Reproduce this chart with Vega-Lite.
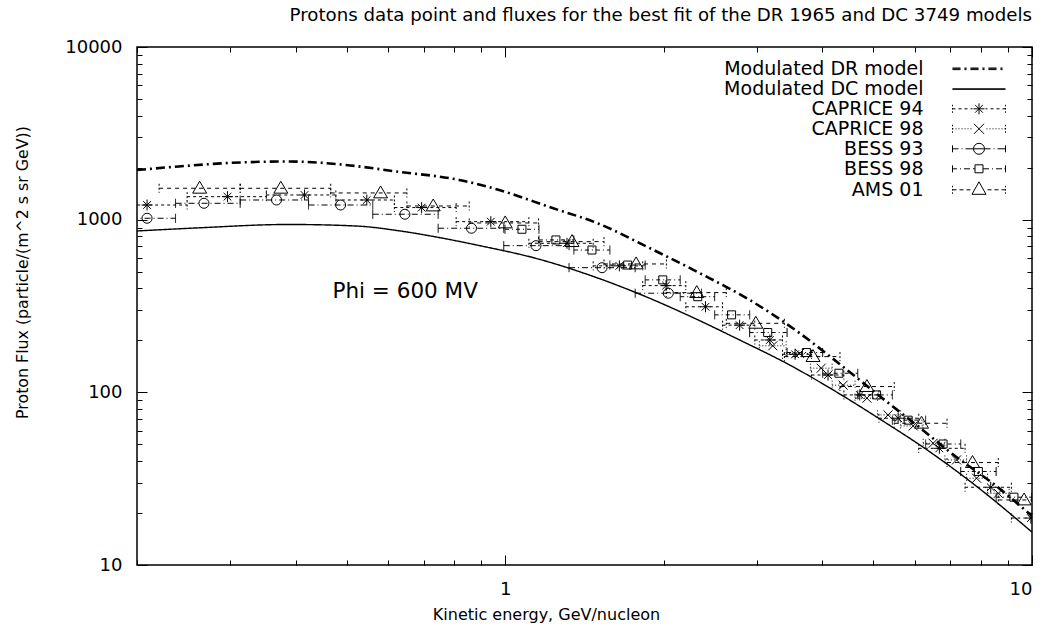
{
  "$schema": "https://vega.github.io/schema/vega-lite/v6.json",
  "width": 895,
  "height": 518,
  "autosize": {"type": "none"},
  "padding": {"left": 137, "top": 47, "right": 16, "bottom": 62},
  "background": "white",
  "title": {"text": "Protons data point and fluxes for the best fit of the DR 1965 and DC 3749 models", "anchor": "end", "frame": "group", "font": "DejaVu Sans", "fontSize": 18.2, "fontWeight": "normal", "color": "black", "offset": 13},
  "config": {
    "view": {"stroke": "black", "strokeWidth": 1.5},
    "font": "DejaVu Sans",
    "axis": {"domain": false, "grid": false, "tickColor": "black", "tickWidth": 1, "labelColor": "black", "titleColor": "black", "labelFont": "DejaVu Sans", "titleFont": "DejaVu Sans", "titleFontWeight": "normal", "labelFontSize": 18}
  },
  "datasets": {
    "models": [
      {"series": "Modulated DR model", "x": 0.2, "y": 1940},
      {"series": "Modulated DR model", "x": 0.24, "y": 2033},
      {"series": "Modulated DR model", "x": 0.2987, "y": 2130},
      {"series": "Modulated DR model", "x": 0.3885, "y": 2173},
      {"series": "Modulated DR model", "x": 0.4985, "y": 2074},
      {"series": "Modulated DR model", "x": 0.6205, "y": 1902},
      {"series": "Modulated DR model", "x": 0.8176, "y": 1698},
      {"series": "Modulated DR model", "x": 0.974, "y": 1486},
      {"series": "Modulated DR model", "x": 1.212, "y": 1185},
      {"series": "Modulated DR model", "x": 1.509, "y": 944},
      {"series": "Modulated DR model", "x": 1.878, "y": 686},
      {"series": "Modulated DR model", "x": 2.338, "y": 491},
      {"series": "Modulated DR model", "x": 2.91, "y": 343},
      {"series": "Modulated DR model", "x": 3.623, "y": 220},
      {"series": "Modulated DR model", "x": 4.13, "y": 162},
      {"series": "Modulated DR model", "x": 5.14, "y": 95},
      {"series": "Modulated DR model", "x": 6.4, "y": 56},
      {"series": "Modulated DR model", "x": 6.98, "y": 45.2},
      {"series": "Modulated DR model", "x": 8.69, "y": 27.6},
      {"series": "Modulated DR model", "x": 10, "y": 19.2},
      {"series": "Modulated DC model", "x": 0.2, "y": 860},
      {"series": "Modulated DC model", "x": 0.2585, "y": 895},
      {"series": "Modulated DC model", "x": 0.3885, "y": 938},
      {"series": "Modulated DC model", "x": 0.521, "y": 919},
      {"series": "Modulated DC model", "x": 0.629, "y": 862},
      {"series": "Modulated DC model", "x": 0.749, "y": 788},
      {"series": "Modulated DC model", "x": 0.893, "y": 708},
      {"series": "Modulated DC model", "x": 1.16, "y": 590},
      {"series": "Modulated DC model", "x": 1.444, "y": 478},
      {"series": "Modulated DC model", "x": 1.798, "y": 371},
      {"series": "Modulated DC model", "x": 2.238, "y": 277},
      {"series": "Modulated DC model", "x": 2.786, "y": 201},
      {"series": "Modulated DC model", "x": 3.467, "y": 144},
      {"series": "Modulated DC model", "x": 4.315, "y": 97.9},
      {"series": "Modulated DC model", "x": 5.14, "y": 70.1},
      {"series": "Modulated DC model", "x": 6.4, "y": 45.2},
      {"series": "Modulated DC model", "x": 7.96, "y": 27.6},
      {"series": "Modulated DC model", "x": 10, "y": 15.5}
    ],
    "pts": [
      {"series": "CAPRICE 94", "x": 0.209, "y": 1216, "xlo": 0.185, "xhi": 0.249},
      {"series": "CAPRICE 94", "x": 0.297, "y": 1359, "xlo": 0.249, "xhi": 0.352},
      {"series": "CAPRICE 94", "x": 0.416, "y": 1390, "xlo": 0.352, "xhi": 0.477},
      {"series": "CAPRICE 94", "x": 0.546, "y": 1300, "xlo": 0.477, "xhi": 0.616},
      {"series": "CAPRICE 94", "x": 0.694, "y": 1175, "xlo": 0.616, "xhi": 0.807},
      {"series": "CAPRICE 94", "x": 0.939, "y": 974, "xlo": 0.807, "xhi": 1.109},
      {"series": "CAPRICE 94", "x": 1.31, "y": 730, "xlo": 1.109, "xhi": 1.469},
      {"series": "CAPRICE 94", "x": 1.647, "y": 540, "xlo": 1.469, "xhi": 1.824},
      {"series": "CAPRICE 94", "x": 2.02, "y": 415, "xlo": 1.824, "xhi": 2.202},
      {"series": "CAPRICE 94", "x": 2.4, "y": 313, "xlo": 2.202, "xhi": 2.586},
      {"series": "CAPRICE 94", "x": 2.786, "y": 245, "xlo": 2.586, "xhi": 2.977},
      {"series": "CAPRICE 94", "x": 3.18, "y": 201, "xlo": 2.977, "xhi": 3.36},
      {"series": "CAPRICE 94", "x": 3.55, "y": 166, "xlo": 3.36, "xhi": 3.815},
      {"series": "CAPRICE 94", "x": 4.1, "y": 126, "xlo": 3.815, "xhi": 4.394},
      {"series": "CAPRICE 94", "x": 4.71, "y": 96.6, "xlo": 4.394, "xhi": 5.122},
      {"series": "CAPRICE 94", "x": 5.57, "y": 70.8, "xlo": 5.122, "xhi": 6.095},
      {"series": "CAPRICE 94", "x": 6.67, "y": 47.4, "xlo": 6.095, "xhi": 7.463},
      {"series": "CAPRICE 94", "x": 8.35, "y": 28.2, "xlo": 7.463, "xhi": 9.138},
      {"series": "CAPRICE 94", "x": 9.95, "y": 18.7, "xlo": 9.138, "xhi": 10.9},
      {"series": "CAPRICE 98", "x": 3.22, "y": 186, "xlo": 3.037, "xhi": 3.414},
      {"series": "CAPRICE 98", "x": 3.62, "y": 168, "xlo": 3.414, "xhi": 3.796},
      {"series": "CAPRICE 98", "x": 3.98, "y": 138, "xlo": 3.796, "xhi": 4.175},
      {"series": "CAPRICE 98", "x": 4.38, "y": 110, "xlo": 4.175, "xhi": 4.614},
      {"series": "CAPRICE 98", "x": 4.86, "y": 92.5, "xlo": 4.614, "xhi": 5.09},
      {"series": "CAPRICE 98", "x": 5.33, "y": 74, "xlo": 5.09, "xhi": 5.631},
      {"series": "CAPRICE 98", "x": 5.95, "y": 63.9, "xlo": 5.631, "xhi": 6.214},
      {"series": "CAPRICE 98", "x": 6.49, "y": 50.7, "xlo": 6.214, "xhi": 6.831},
      {"series": "CAPRICE 98", "x": 7.19, "y": 40.6, "xlo": 6.831, "xhi": 7.513},
      {"series": "CAPRICE 98", "x": 7.85, "y": 31.8, "xlo": 7.513, "xhi": 8.231},
      {"series": "CAPRICE 98", "x": 8.63, "y": 26.0, "xlo": 8.231, "xhi": 9.05},
      {"series": "BESS 93", "x": 0.209, "y": 1019, "xlo": 0.1845, "xhi": 0.2367},
      {"series": "BESS 93", "x": 0.268, "y": 1244, "xlo": 0.2367, "xhi": 0.314},
      {"series": "BESS 93", "x": 0.368, "y": 1300, "xlo": 0.314, "xhi": 0.4233},
      {"series": "BESS 93", "x": 0.487, "y": 1216, "xlo": 0.4233, "xhi": 0.5605},
      {"series": "BESS 93", "x": 0.645, "y": 1075, "xlo": 0.5605, "xhi": 0.746},
      {"series": "BESS 93", "x": 0.863, "y": 892, "xlo": 0.746, "xhi": 0.9936},
      {"series": "BESS 93", "x": 1.144, "y": 707, "xlo": 0.9936, "xhi": 1.3217},
      {"series": "BESS 93", "x": 1.527, "y": 527, "xlo": 1.3217, "xhi": 1.765},
      {"series": "BESS 93", "x": 2.04, "y": 375, "xlo": 1.765, "xhi": 2.358},
      {"series": "BESS 98", "x": 1.076, "y": 880, "xlo": 0.999, "xhi": 1.159},
      {"series": "BESS 98", "x": 1.248, "y": 763, "xlo": 1.159, "xhi": 1.35},
      {"series": "BESS 98", "x": 1.461, "y": 667, "xlo": 1.35, "xhi": 1.58},
      {"series": "BESS 98", "x": 1.708, "y": 546, "xlo": 1.58, "xhi": 1.844},
      {"series": "BESS 98", "x": 1.991, "y": 448, "xlo": 1.844, "xhi": 2.149},
      {"series": "BESS 98", "x": 2.32, "y": 358, "xlo": 2.149, "xhi": 2.498},
      {"series": "BESS 98", "x": 2.69, "y": 281, "xlo": 2.498, "xhi": 2.911},
      {"series": "BESS 98", "x": 3.15, "y": 222, "xlo": 2.911, "xhi": 3.428},
      {"series": "BESS 98", "x": 3.73, "y": 170, "xlo": 3.428, "xhi": 4.005},
      {"series": "BESS 98", "x": 4.3, "y": 129, "xlo": 4.005, "xhi": 4.669},
      {"series": "BESS 98", "x": 5.07, "y": 96.6, "xlo": 4.669, "xhi": 5.432},
      {"series": "BESS 98", "x": 5.82, "y": 69, "xlo": 5.432, "xhi": 6.282},
      {"series": "BESS 98", "x": 6.78, "y": 50.2, "xlo": 6.282, "xhi": 7.323},
      {"series": "BESS 98", "x": 7.91, "y": 34.8, "xlo": 7.323, "xhi": 8.549},
      {"series": "BESS 98", "x": 9.24, "y": 24.7, "xlo": 8.549, "xhi": 9.987},
      {"series": "AMS 01", "x": 0.263, "y": 1520, "xlo": 0.2203, "xhi": 0.314},
      {"series": "AMS 01", "x": 0.375, "y": 1520, "xlo": 0.314, "xhi": 0.4664},
      {"series": "AMS 01", "x": 0.58, "y": 1428, "xlo": 0.4664, "xhi": 0.6507},
      {"series": "AMS 01", "x": 0.73, "y": 1200, "xlo": 0.6507, "xhi": 0.8544},
      {"series": "AMS 01", "x": 1.0, "y": 957, "xlo": 0.8544, "xhi": 1.157},
      {"series": "AMS 01", "x": 1.339, "y": 746, "xlo": 1.157, "xhi": 1.54},
      {"series": "AMS 01", "x": 1.772, "y": 554, "xlo": 1.54, "xhi": 2.023},
      {"series": "AMS 01", "x": 2.31, "y": 378, "xlo": 2.023, "xhi": 2.628},
      {"series": "AMS 01", "x": 2.99, "y": 251, "xlo": 2.628, "xhi": 3.388},
      {"series": "AMS 01", "x": 3.84, "y": 161, "xlo": 3.388, "xhi": 4.32},
      {"series": "AMS 01", "x": 4.86, "y": 108, "xlo": 4.32, "xhi": 5.476},
      {"series": "AMS 01", "x": 6.17, "y": 66.2, "xlo": 5.476, "xhi": 6.897},
      {"series": "AMS 01", "x": 7.71, "y": 39.2, "xlo": 6.897, "xhi": 8.63},
      {"series": "AMS 01", "x": 9.66, "y": 23.8, "xlo": 8.63, "xhi": 10.81}
    ],
    "notes": [
      {"x": 0.47, "y": 380, "label": "Phi = 600 MV"}
    ]
  },
  "layer": [
    {
      "data": {"name": "models"},
      "mark": {"type": "line", "interpolate": "monotone", "color": "black", "clip": true},
      "encoding": {
        "x": {"field": "x", "type": "quantitative", "scale": {"type": "log", "domain": [0.2, 10], "nice": false},
          "axis": {"orient": "bottom", "values": [1, 10], "format": "d", "tickSize": -10, "labelPadding": 25, "title": "Kinetic energy, GeV/nucleon", "titleFontSize": 16, "titleX": 409, "titlePadding": 8}},
        "y": {"field": "y", "type": "quantitative", "scale": {"type": "log", "domain": [10, 10000], "nice": false},
          "axis": {"orient": "left", "values": [10, 100, 1000, 10000], "format": "d", "tickSize": -10, "labelPadding": 25, "title": "Proton Flux (particle/(m^2 s sr GeV))", "titleFontSize": 15.8, "titleX": -115, "titleY": 225, "titleAngle": -90, "titleAlign": "center", "titleBaseline": "middle"}},
        "detail": {"field": "series"},
        "strokeDash": {"condition": {"test": "datum.series === 'Modulated DR model'", "value": [9, 4, 2, 4]}, "value": [1, 0]},
        "strokeWidth": {"condition": {"test": "datum.series === 'Modulated DR model'", "value": 2.6}, "value": 1.4}
      }
    },
    {
      "data": {"name": "pts"},
      "mark": {"type": "rule", "color": "black", "strokeWidth": 1, "clip": true},
      "encoding": {
        "x": {"field": "xlo", "type": "quantitative", "scale": {"type": "log", "domain": [0.2, 10], "nice": false},
          "axis": {"orient": "bottom", "values": [0.2, 0.3, 0.4, 0.5, 0.6, 0.7, 0.8, 0.9, 2, 3, 4, 5, 6, 7, 8, 9], "tickSize": -5, "labels": false, "title": null}},
        "x2": {"field": "xhi"},
        "y": {"field": "y", "type": "quantitative", "scale": {"type": "log", "domain": [10, 10000], "nice": false},
          "axis": {"orient": "left", "values": [20, 30, 40, 50, 60, 70, 80, 90, 200, 300, 400, 500, 600, 700, 800, 900, 2000, 3000, 4000, 5000, 6000, 7000, 8000, 9000], "tickSize": -5, "labels": false, "title": null}},
        "strokeDash": {"condition": [
          {"test": "datum.series === 'CAPRICE 94'", "value": [3, 3]},
          {"test": "datum.series === 'CAPRICE 98'", "value": [1, 2]},
          {"test": "datum.series === 'BESS 93'", "value": [6, 3, 1, 3]},
          {"test": "datum.series === 'BESS 98'", "value": [4, 3, 1, 3]}
        ], "value": [4, 4]}
      }
    },
    {
      "data": {"name": "pts"},
      "transform": [{"fold": ["xlo", "xhi"], "as": ["end", "xe"]}],
      "mark": {"type": "point", "filled": false, "color": "black", "strokeWidth": 1, "size": 81, "shape": "M0,-1L0,1", "opacity": 1, "clip": true},
      "encoding": {
        "x": {"field": "xe", "type": "quantitative", "scale": {"type": "log", "domain": [0.2, 10], "nice": false},
          "axis": {"orient": "top", "values": [1, 10], "tickSize": -10, "labels": false, "title": null}},
        "y": {"field": "y", "type": "quantitative", "scale": {"type": "log", "domain": [10, 10000], "nice": false},
          "axis": {"orient": "right", "values": [10, 100, 1000, 10000], "tickSize": -10, "labels": false, "title": null}},
        "strokeDash": {"condition": [
          {"test": "datum.series === 'CAPRICE 94'", "value": [2, 2]},
          {"test": "datum.series === 'CAPRICE 98'", "value": [1, 2]},
          {"test": "datum.series === 'AMS 01'", "value": [2, 2]}
        ], "value": [1, 0]}
      }
    },
    {
      "data": {"name": "pts"},
      "mark": {"type": "point", "filled": false, "color": "black", "strokeWidth": 1, "opacity": 1, "clip": true},
      "encoding": {
        "x": {"field": "x", "type": "quantitative", "scale": {"type": "log", "domain": [0.2, 10], "nice": false},
          "axis": {"orient": "top", "values": [0.2, 0.3, 0.4, 0.5, 0.6, 0.7, 0.8, 0.9, 2, 3, 4, 5, 6, 7, 8, 9], "tickSize": -5, "labels": false, "title": null}},
        "y": {"field": "y", "type": "quantitative", "scale": {"type": "log", "domain": [10, 10000], "nice": false},
          "axis": {"orient": "right", "values": [20, 30, 40, 50, 60, 70, 80, 90, 200, 300, 400, 500, 600, 700, 800, 900, 2000, 3000, 4000, 5000, 6000, 7000, 8000, 9000], "tickSize": -5, "labels": false, "title": null}},
        "shape": {"condition": [
          {"test": "datum.series === 'CAPRICE 94'", "value": "M-1,0L1,0M0,-1L0,1M-0.7,-0.7L0.7,0.7M-0.7,0.7L0.7,-0.7"},
          {"test": "datum.series === 'CAPRICE 98'", "value": "M-0.75,-0.75L0.75,0.75M-0.75,0.75L0.75,-0.75"},
          {"test": "datum.series === 'BESS 93'", "value": "circle"},
          {"test": "datum.series === 'BESS 98'", "value": "square"}
        ], "value": "M-1,0.7L1,0.7L0,-1Z"},
        "size": {"condition": [
          {"test": "datum.series === 'CAPRICE 94'", "value": 121},
          {"test": "datum.series === 'CAPRICE 98'", "value": 144},
          {"test": "datum.series === 'BESS 93'", "value": 100},
          {"test": "datum.series === 'BESS 98'", "value": 64}
        ], "value": 196}
      }
    },
    {
      "data": {"name": "notes"},
      "mark": {"type": "text", "align": "left", "baseline": "middle", "font": "DejaVu Sans", "fontSize": 21.5, "color": "black"},
      "encoding": {
        "x": {"field": "x", "type": "quantitative", "scale": {"type": "log", "domain": [0.2, 10], "nice": false}, "axis": null},
        "y": {"field": "y", "type": "quantitative", "scale": {"type": "log", "domain": [10, 10000], "nice": false}, "axis": null},
        "text": {"field": "label"}
      }
    },
    {
      "data": {"name": "models"},
      "transform": [{"filter": "datum.x < 0"}],
      "mark": {"type": "point", "filled": false, "color": "black", "strokeWidth": 1},
      "encoding": {
        "x": {"field": "x", "type": "quantitative", "scale": {"type": "log", "domain": [0.2, 10], "nice": false}, "axis": null},
        "y": {"field": "y", "type": "quantitative", "scale": {"type": "log", "domain": [10, 10000], "nice": false}, "axis": null},
        "shape": {"field": "series", "type": "nominal",
          "scale": {
            "domain": ["Modulated DR model", "Modulated DC model", "CAPRICE 94", "CAPRICE 98", "BESS 93", "BESS 98", "AMS 01"],
            "range": [
              "M-2.944,0L-2.056,0M-1.611,0L-1.389,0M-0.944,0L-0.056,0M0.389,0L0.611,0M1.056,0L1.944,0M2.389,0L2.611,0M-2.944,-0.09L-2.056,-0.09M-1.611,-0.09L-1.389,-0.09M-0.944,-0.09L-0.056,-0.09M0.389,-0.09L0.611,-0.09M1.056,-0.09L1.944,-0.09M2.389,-0.09L2.611,-0.09M-2.944,0.09L-2.056,0.09M-1.611,0.09L-1.389,0.09M-0.944,0.09L-0.056,0.09M0.389,0.09L0.611,0.09M1.056,0.09L1.944,0.09M2.389,0.09L2.611,0.09",
              "M-2.944,0L2.944,0M-2.944,0.06L2.944,0.06",
              "M-2.944,-0.444L-2.944,-0.278M-2.944,-0.083L-2.944,0.083M-2.944,0.278L-2.944,0.444M2.944,-0.444L2.944,-0.278M2.944,-0.083L2.944,0.083M2.944,0.278L2.944,0.444M-2.944,0L-2.611,0M-2.278,0L-1.944,0M-1.611,0L-1.278,0M-0.944,0L-0.722,0M0.722,0L0.944,0M1.278,0L1.611,0M1.944,0L2.278,0M2.611,0L2.944,0M-0.611,0L0.611,0M0,-0.611L0,0.611M-0.432,-0.432L0.432,0.432M-0.432,0.432L0.432,-0.432",
              "M-2.944,-0.444L-2.944,-0.278M-2.944,-0.083L-2.944,0.083M-2.944,0.278L-2.944,0.444M2.944,-0.444L2.944,-0.278M2.944,-0.083L2.944,0.083M2.944,0.278L2.944,0.444M-2.944,0L-2.833,0M-2.611,0L-2.5,0M-2.278,0L-2.167,0M-1.944,0L-1.833,0M-1.611,0L-1.5,0M-1.278,0L-1.167,0M-0.944,0L-0.833,0M0.833,0L0.944,0M1.167,0L1.278,0M1.5,0L1.611,0M1.833,0L1.944,0M2.167,0L2.278,0M2.5,0L2.611,0M2.833,0L2.944,0M-0.556,-0.556L0.556,0.556M-0.556,0.556L0.556,-0.556",
              "M-2.944,-0.389L-2.944,0.389M2.944,-0.389L2.944,0.389M-2.944,0L-2.278,0M-1.944,0L-1.833,0M-1.5,0L-0.611,0M0.611,0L1.278,0M1.611,0L1.722,0M2.056,0L2.944,0M0.611,0A0.611,0.611,0,1,1,-0.611,0A0.611,0.611,0,1,1,0.611,0M-0.611,0L0.611,0",
              "M-2.944,-0.389L-2.944,0.389M2.944,-0.389L2.944,0.389M-2.944,0L-2.444,0M-2.111,0L-2,0M-1.667,0L-1,0M-0.667,0L-0.444,0M0.444,0L1.111,0M1.444,0L1.556,0M1.889,0L2.556,0M2.833,0L2.944,0M-0.444,-0.444L0.444,-0.444L0.444,0.444L-0.444,0.444Z",
              "M-2.944,-0.444L-2.944,-0.278M-2.944,-0.083L-2.944,0.083M-2.944,0.278L-2.944,0.444M2.944,-0.444L2.944,-0.278M2.944,-0.083L2.944,0.083M2.944,0.278L2.944,0.444M-2.944,0L-2.5,0M-2.167,0L-1.722,0M-1.389,0L-0.944,0M0.944,0L1.389,0M1.722,0L2.167,0M2.5,0L2.944,0M-0.778,0.5L0.778,0.5L0,-0.889Z"
            ]
          },
          "legend": {"orient": "none", "legendX": 832.5, "legendY": 12.3, "title": null, "labelAlign": "right", "labelOffset": -65, "symbolSize": 324, "rowPadding": 0, "padding": 0, "labelFont": "DejaVu Sans", "labelFontSize": 19, "labelColor": "black", "labelLimit": 400, "symbolStrokeColor": "black", "symbolFillColor": "transparent", "symbolOpacity": 1, "symbolStrokeWidth": 1}
        }
      }
    }
  ],
  "resolve": {"axis": {"x": "independent", "y": "independent"}}
}
